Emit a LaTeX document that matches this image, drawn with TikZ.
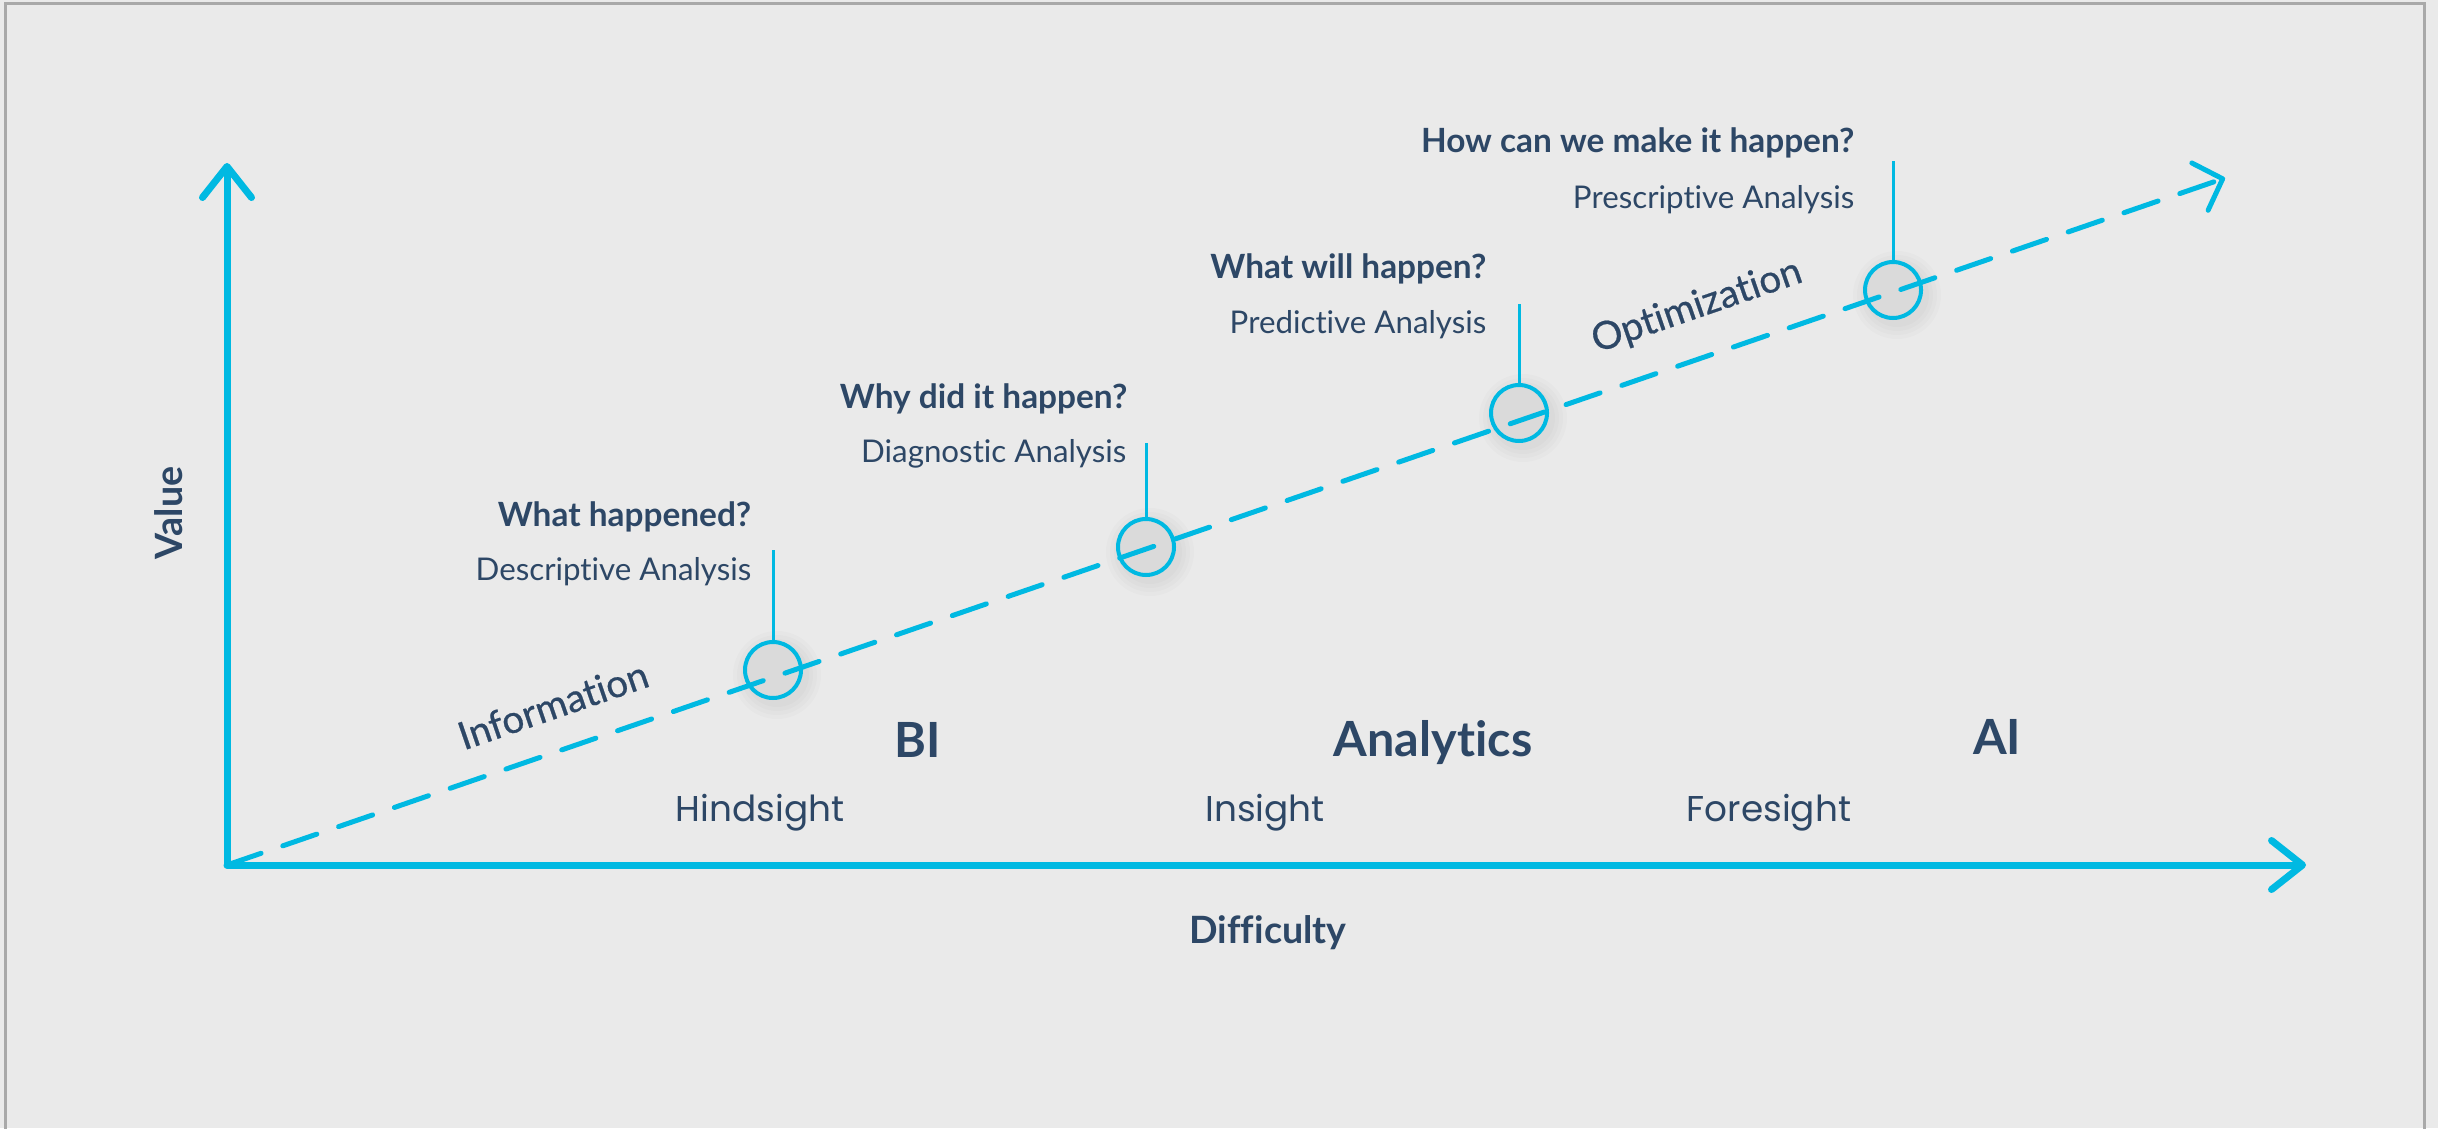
\documentclass[tikz,border=0pt]{standalone}
\usepackage{fontspec}
\setmainfont{Lato}[Ligatures={NoCommon}]
\newfontfamily\geofont{Poppins}
\usetikzlibrary{arrows.meta}
\definecolor{bgcol}{HTML}{EAEAEA}
\definecolor{framecol}{HTML}{A9A9A9}
\definecolor{cyanline}{HTML}{00B9E2}
\definecolor{navy}{HTML}{2D4766}
\tikzset{
  axisline/.style={draw=cyanline, line width=0.7mm, line cap=round, line join=round,
    -{Straight Barb[length=3.1mm, width=4.9mm, round]}},
  trendline/.style={draw=cyanline, line width=0.5mm, line cap=round,
    dash pattern=on 3.6mm off 2.3mm,
    -{Straight Barb[length=2.4mm, width=5mm, round]}},
  milestone/.style={circle, draw=cyanline, line width=0.4mm, minimum size=5.6mm, inner sep=0pt},
  stem/.style={draw=cyanline, line width=0.3mm},
  question/.style={text=navy, font=\bfseries\fontsize{9.5}{11}\selectfont, anchor=base east, inner sep=0pt},
  method/.style={text=navy, font=\fontsize{8.9}{11}\selectfont, anchor=base east, inner sep=0pt},
  phase/.style={text=navy, font=\fontsize{11}{13}\selectfont\addfontfeatures{FakeBold=0.6}, inner sep=0pt, rotate=19},
  stage/.style={text=navy, font=\bfseries\fontsize{13.8}{16}\selectfont, inner sep=0pt},
  sight/.style={text=navy, font=\geofont\fontsize{10.2}{12}\selectfont, inner sep=0pt},
  axislabel/.style={text=navy, font=\bfseries\fontsize{10.7}{13}\selectfont, inner sep=0pt},
}
\begin{document}
\begin{tikzpicture}[x=0.1mm, y=-0.1mm]
  % canvas and frame
  \fill[bgcol] (0,0) rectangle (2438,1128);
  \useasboundingbox (0,0) rectangle (2438,1128);
  \draw[framecol, line width=0.3mm] (5.5,1140) -- (5.5,3.5) -- (2424,3.5) -- (2424,1140);

  % axes
  \coordinate (origin) at (227,865);
  \coordinate (ytip) at (227,163);
  \coordinate (xtip) at (2306,865);
  \coordinate (trendtip) at (2225,178);
  \draw[axisline] (origin) -- (ytip);
  \draw[axisline] (origin) -- (xtip);

  % soft shadows behind milestones
  \foreach \cx/\cy in {773/670, 1146/547, 1519/413, 1893/290}{
    \foreach \r in {44,40,36,32}{
      \fill[black, opacity=0.014] (\cx+4,\cy+5) circle[radius=\r];
    }
  }

  % trend line
  \draw[trendline] (origin) -- (trendtip);

  % milestones
  \node[milestone] (c1) at (773,670) {};
  \node[milestone] (c2) at (1146,547) {};
  \node[milestone] (c3) at (1519,413) {};
  \node[milestone] (c4) at (1893,290) {};
  \coordinate (s1) at (773,550);
  \coordinate (s2) at (1146,443);
  \coordinate (s3) at (1519,304);
  \coordinate (s4) at (1893,161);
  \draw[stem] (c1.north) -- (s1);
  \draw[stem] (c2.north) -- (s2);
  \draw[stem] (c3.north) -- (s3);
  \draw[stem] (c4.north) -- (s4);

  % questions and methods
  \node[question] (q1) at (752,526) {What happened?};
  \node[method] (m1) at (752,580) {Descriptive Analysis};
  \node[question] (q2) at (1128,408) {Why did it happen?};
  \node[method] (m2) at (1127,462) {Diagnostic Analysis};
  \node[question] (q3) at (1487,278) {What will happen?};
  \node[method] (m3) at (1487,333) {Predictive Analysis};
  \node[question] (q4) at (1855,153) {How can we make it happen?};
  \node[method] (m4) at (1855,208) {Prescriptive Analysis};

  % phases along the trend
  \node[phase] (info) at (553,705) {Information};
  \node[phase] (optim) at (1697,307) {Optimization};

  % stages
  \node[stage] (bi) at (918,740) {BI};
  \node[stage] (analytics) at (1433,743) {Analytics};
  \node[stage] (ai) at (1997,737) {AI};
  \node[sight] (hind) at (760,813) {Hindsight};
  \node[sight] (ins) at (1265,813) {Insight};
  \node[sight] (fore) at (1769,813) {Foresight};

  % axis labels
  \node[axislabel, rotate=90] (value) at (169,513) {Value};
  \node[axislabel] (difficulty) at (1268,933) {Difficulty};
\end{tikzpicture}
\end{document}
